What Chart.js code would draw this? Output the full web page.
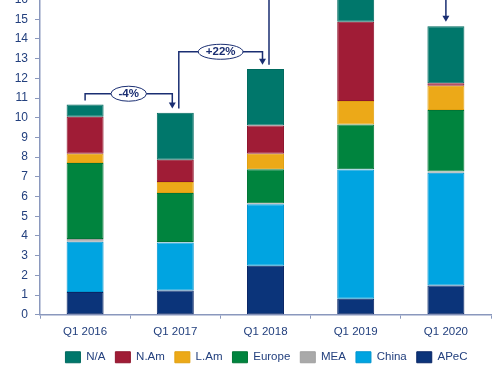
<!DOCTYPE html>
<html>
<head>
<meta charset="utf-8">
<script src="https://cdn.jsdelivr.net/npm/chart.js@4/dist/chart.umd.min.js"></script>
<style>
  html, body { margin: 0; padding: 0; background: #fff; overflow: hidden; }
  #wrap { position: absolute; left: 0; top: -54px; width: 500px; height: 430px; }
</style>
</head>
<body>
<div id="wrap"><canvas id="c"></canvas></div>
<script>
const quarters = ['Q1 2016', 'Q1 2017', 'Q1 2018', 'Q1 2019', 'Q1 2020'];
const apec   = [1.15, 1.23, 2.49, 0.81, 1.48];
const china  = [2.56, 2.44, 3.12, 6.56, 5.73];
const mea    = [0.13, 0.02, 0.05, 0.02, 0.06];
const europe = [3.86, 2.49, 1.72, 2.27, 3.12];
const lam    = [0.47, 0.56, 0.79, 1.19, 1.23];
const nam    = [1.88, 1.13, 1.44, 4.03, 0.13];
const na     = [0.62, 2.38, 2.86, 1.90, 2.90];
const growthLabels = ['-4%', '+22%', '+35%', '-12%'];
const bracketAbove = [0.55, 0.88, 0.9, 0.9];
const yTicksMax = 18;

const NAVY = '#1a2e72';
const TEXT = '#23407e';
const AXIS = '#8a98bd';
const FONT = '"Liberation Sans", Arial, sans-serif';

const series = [
  { label: 'APeC',   data: apec,   color: '#0b347a', border: '#0a2666' },
  { label: 'China',  data: china,  color: '#00a4e1', border: '#0095cf' },
  { label: 'MEA',    data: mea,    color: '#a9a9a9', border: '#a0a0a0' },
  { label: 'Europe', data: europe, color: '#00843e', border: '#007536' },
  { label: 'L.Am',   data: lam,    color: '#eca918', border: '#e0a010' },
  { label: 'N.Am',   data: nam,    color: '#a01c36', border: '#8e152e' },
  { label: 'N/A',    data: na,     color: '#00776b', border: '#006a5f' }
];
const legendOrder = ['N/A', 'N.Am', 'L.Am', 'Europe', 'MEA', 'China', 'APeC'];

const legendShift = {
  id: 'legendShift',
  beforeDraw(chart) {
    const lg = chart.legend, ca = chart.chartArea;
    if (lg && !lg._shifted) {
      lg.left = ca.left + 2; lg.right = ca.right; lg.width = lg.right - lg.left;
      lg.top -= 3; lg.bottom -= 3;
      lg._shifted = true;
    }
  },
  afterUpdate(chart) { if (chart.legend) chart.legend._shifted = false; }
};

const bracketPlugin = {
  id: 'brackets',
  afterDatasetsDraw(chart) {
    const ctx = chart.ctx, xs = chart.scales.x, ys = chart.scales.y;
    const totals = quarters.map((_, i) => series.reduce((s, d) => s + d.data[i], 0));
    ctx.save();
    ctx.strokeStyle = NAVY;
    ctx.fillStyle = NAVY;
    ctx.lineWidth = 1.5;
    growthLabels.forEach((lab, k) => {
      const i = k, j = k + 1;
      const hasIn = k > 0;
      const hasOut = j < quarters.length - 1;
      const x1 = xs.getPixelForValue(i) + (hasIn ? 3.5 : 0);
      const x2 = xs.getPixelForValue(j) - (hasOut ? 3 : 0);
      const yStart = ys.getPixelForValue(totals[i] + (hasIn ? 0.22 : 0.2));
      const yLevel = ys.getPixelForValue(Math.max(totals[i], totals[j]) + bracketAbove[k]);
      const yTip = ys.getPixelForValue(totals[j] + 0.22);
      ctx.beginPath();
      ctx.moveTo(x1, yStart);
      ctx.lineTo(x1, yLevel);
      ctx.lineTo(x2, yLevel);
      ctx.lineTo(x2, yTip - 5);
      ctx.stroke();
      ctx.beginPath();
      ctx.moveTo(x2 - 3.5, yTip - 6);
      ctx.lineTo(x2 + 3.5, yTip - 6);
      ctx.lineTo(x2, yTip);
      ctx.closePath();
      ctx.fill();
      const cx = (x1 + x2) / 2;
      ctx.font = 'bold 11.5px ' + FONT;
      const tw = ctx.measureText(lab).width;
      const rx = tw / 2 + 7.5, ry = 7.5;
      ctx.beginPath();
      ctx.ellipse(cx, yLevel, rx, ry, 0, 0, Math.PI * 2);
      ctx.fillStyle = '#fff';
      ctx.fill();
      ctx.lineWidth = 1;
      ctx.stroke();
      ctx.lineWidth = 1.5;
      ctx.fillStyle = NAVY;
      ctx.textAlign = 'center';
      ctx.textBaseline = 'middle';
      ctx.fillText(lab, cx, yLevel + 0.5);
    });
    ctx.restore();
  }
};

new Chart(document.getElementById('c'), {
  type: 'bar',
  data: {
    labels: quarters,
    datasets: series.map(s => ({
      label: s.label,
      data: s.data,
      backgroundColor: s.color,
      borderColor: s.border,
      borderWidth: 1,
      borderSkipped: false,
      categoryPercentage: 1,
      barPercentage: 0.41
    }))
  },
  options: {
    responsive: true,
    maintainAspectRatio: false,
    devicePixelRatio: 1,
    animation: false,
    layout: { padding: { left: 0, right: 9, top: 0, bottom: 0 } },
    plugins: {
      tooltip: { enabled: false },
      legend: {
        position: 'bottom',
        labels: {
          boxWidth: 15,
          boxHeight: 11,
          padding: 10,
          color: TEXT,
          font: { family: FONT, size: 11.5 },
          sort: (a, b) => legendOrder.indexOf(a.text) - legendOrder.indexOf(b.text)
        }
      }
    },
    scales: {
      x: {
        stacked: true,
        grid: { display: true, drawOnChartArea: false, drawTicks: true, tickLength: 4, color: AXIS, offset: true },
        border: { display: true, color: AXIS, width: 1.5 },
        ticks: { color: TEXT, padding: 6, font: { family: FONT, size: 11.5 } }
      },
      y: {
        stacked: true,
        min: 0,
        max: yTicksMax,
        afterFit(scale) { scale.width = 40; },
        grid: { display: true, drawOnChartArea: false, drawTicks: true, tickLength: 5, color: AXIS },
        border: { display: true, color: AXIS, width: 1.5 },
        ticks: { stepSize: 1, color: TEXT, padding: 7, font: { family: FONT, size: 12 } }
      }
    }
  },
  plugins: [legendShift, bracketPlugin]
});
</script>
</body>
</html>
